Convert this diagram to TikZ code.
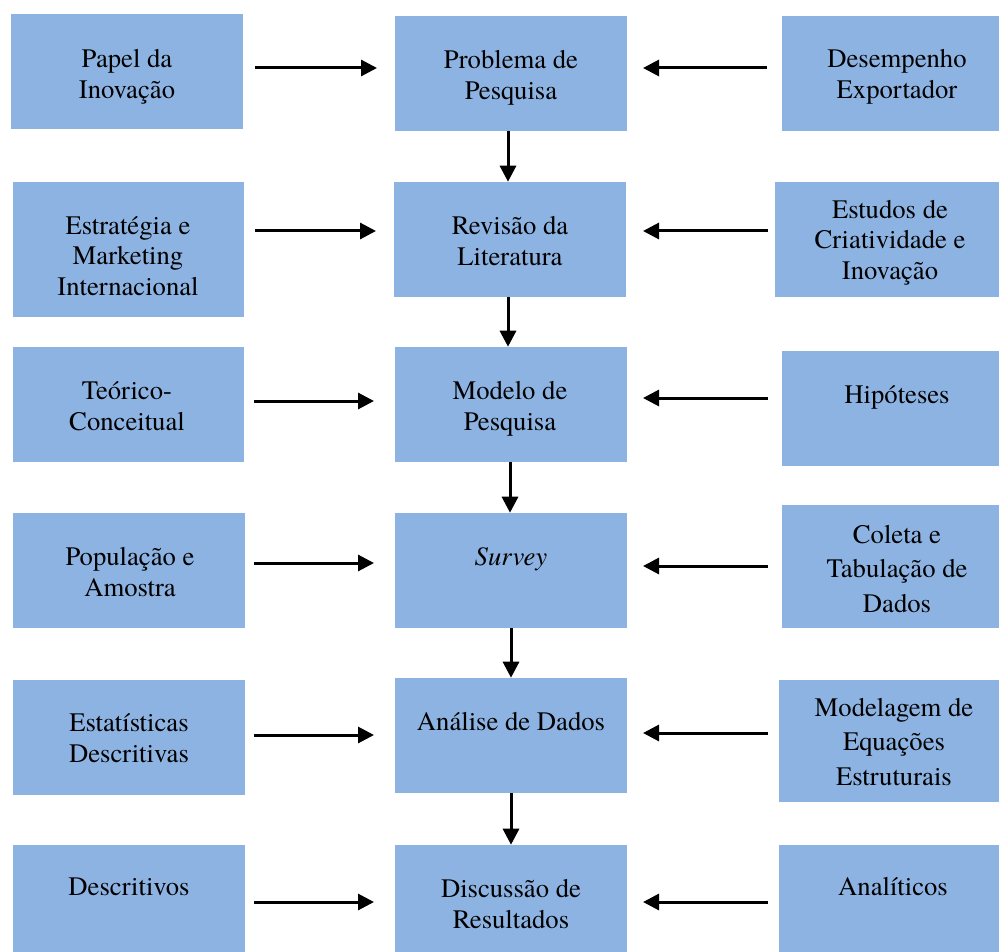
\documentclass[tikz,border=0pt]{standalone}
\usepackage{fontspec}
\setmainfont{texgyretermes}[Extension=.otf,UprightFont=*-regular,ItalicFont=*-italic,BoldFont=*-bold,BoldItalicFont=*-bolditalic]
\usetikzlibrary{arrows.meta,fit}
\definecolor{boxblue}{HTML}{8DB3E2}
\begin{document}
\begin{tikzpicture}[x=0.75pt,y=-0.75pt,
  box/.style={fill=boxblue,draw=none,inner sep=0pt,rectangle},
  txt/.style={align=center,inner sep=0pt,yshift=-2pt,font=\fontsize{20}{22.9}\selectfont},
  txtw/.style={align=center,inner sep=0pt,yshift=-1.5pt,font=\fontsize{20}{26.2}\selectfont},
  arr/.style={line width=2.25pt,-{Triangle[length=12pt,width=12pt]}}]
\useasboundingbox (0,0) rectangle (999,952);
% boxes
\node[box,fit={(11,14)(243,129)}] (a1) {};
\node[box,fit={(13,182)(244,317)}] (a2) {};
\node[box,fit={(13,347)(244,462)}] (a3) {};
\node[box,fit={(13,513)(245,628)}] (a4) {};
\node[box,fit={(13,680)(245,795)}] (a5) {};
\node[box,fit={(13,845)(245,952)}] (a6) {};
\node[box,fit={(395,16)(627,131)}] (m1) {};
\node[box,fit={(394,182)(626,297)}] (m2) {};
\node[box,fit={(395,347)(627,462)}] (m3) {};
\node[box,fit={(395,513)(627,628)}] (m4) {};
\node[box,fit={(395,678)(627,793)}] (m5) {};
\node[box,fit={(395,845)(627,952)}] (m6) {};
\node[box,fit={(782,16)(999,131)}] (r1) {};
\node[box,fit={(775,182)(999,297)}] (r2) {};
\node[box,fit={(782,351)(999,466)}] (r3) {};
\node[box,fit={(782,505)(999,628)}] (r4) {};
\node[box,fit={(779,680)(999,802)}] (r5) {};
\node[box,fit={(779,845)(999,952)}] (r6) {};
% texts
\node[txt] (a1t) at (127,74) {\strut Papel da\\Inovação\strut};
\node[txt] (a2t) at (128,256) {\strut Estratégia e\\Marketing\\Internacional\strut};
\node[txt] (a3t) at (127,406) {\strut Teórico-\\Conceitual\strut};
\node[txt] (a4t) at (130,572) {\strut População e\\Amostra\strut};
\node[txt] (a5t) at (129,738) {\strut Estatísticas\\Descritivas\strut};
\node[txt] (a6t) at (129,887) {\strut Descritivos};
\node[txt] (m1t) at (511,75) {\strut Problema de\\Pesquisa\strut};
\node[txt] (m2t) at (510,241) {\strut Revisão da\\Literatura\strut};
\node[txt] (m3t) at (510,406) {\strut Modelo de\\Pesquisa\strut};
\node[txt] (m4t) at (511,557) {\strut\itshape Survey};
\node[txt] (m5t) at (511,722) {\strut Análise de Dados};
\node[txt] (m6t) at (511,904) {\strut Discussão de\\Resultados\strut};
\node[txt] (r1t) at (897,74) {\strut Desempenho\\Exportador\strut};
\node[txt] (r2t) at (890,240) {\strut Estudos de\\Criatividade e\\Inovação\strut};
\node[txt] (r3t) at (897,395) {\strut Hipóteses};
\node[txtw] (r4t) at (897,569) {\strut Coleta e\\Tabulação de\\Dados\strut};
\node[txtw] (r5t) at (894,742) {\strut Modelagem de\\Equações\\Estruturais\strut};
\node[txt] (r6t) at (893,887) {\strut Analíticos};
% arrow end coordinates
\coordinate (l1s) at (255,68);  \coordinate (l1e) at (377,68);
\coordinate (l2s) at (255,231); \coordinate (l2e) at (376,231);
\coordinate (l3s) at (254,401); \coordinate (l3e) at (374,401);
\coordinate (l4s) at (254,563); \coordinate (l4e) at (374,563);
\coordinate (l5s) at (254,735); \coordinate (l5e) at (374,735);
\coordinate (l6s) at (254,902); \coordinate (l6e) at (374,902);
\coordinate (q1s) at (767,68);  \coordinate (q1e) at (643,68);
\coordinate (q2s) at (768,231); \coordinate (q2e) at (643,231);
\coordinate (q3s) at (768,398); \coordinate (q3e) at (643,398);
\coordinate (q4s) at (768,566); \coordinate (q4e) at (643,566);
\coordinate (q5s) at (768,733); \coordinate (q5e) at (643,733);
\coordinate (q6s) at (768,902); \coordinate (q6e) at (643,902);
\foreach \i in {1,...,6} {
  \draw[arr] (l\i s) -- (l\i e);
  \draw[arr] (q\i s) -- (q\i e);
}
% vertical arrows
\draw[arr] (m1.south -| 508,0) -- (m2.north -| 508,0);
\draw[arr] (m2.south -| 508,0) -- (m3.north -| 508,0);
\draw[arr] (m3.south -| 510,0) -- (m4.north -| 510,0);
\draw[arr] (m4.south -| 511,0) -- (m5.north -| 511,0);
\draw[arr] (m5.south -| 511,0) -- (m6.north -| 511,0);
\end{tikzpicture}
\end{document}
